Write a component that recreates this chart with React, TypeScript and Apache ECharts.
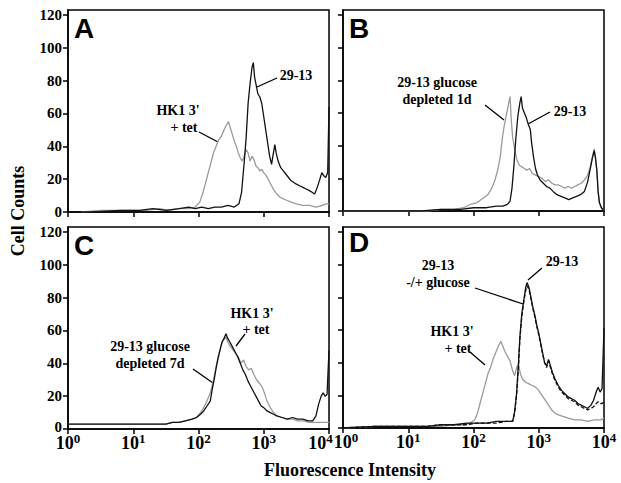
import React, { useEffect, useRef } from "react";
import * as echarts from "echarts";

// x values are log10(fluorescence intensity), y values are cell counts
const xTicks = [0, 1, 2, 3, 4];
const yTicks = [0, 20, 40, 60, 80, 100, 120];

// Panel A
const a_2913: number[][] = [[0.0,0],[0.4,0],[0.8,1],[1.1,1],[1.3,2],[1.5,1],[1.7,2],[1.85,3],[1.95,2],[2.05,3],[2.15,2],[2.25,3],[2.35,3],[2.45,4],[2.55,3],[2.62,5],[2.66,12],[2.7,30],[2.73,45],[2.76,66],[2.79,78],[2.82,88],[2.84,91],[2.86,82],[2.88,78],[2.91,72],[2.94,70],[2.97,66],[3.0,58],[3.03,50],[3.06,42],[3.09,34],[3.12,29],[3.14,34],[3.17,41],[3.19,36],[3.22,31],[3.26,27],[3.3,25],[3.34,23],[3.38,21],[3.42,19],[3.46,18],[3.5,17],[3.55,16],[3.6,15],[3.65,14],[3.7,13],[3.74,12],[3.78,11],[3.82,15],[3.86,20],[3.89,24],[3.92,22],[3.95,21],[3.98,24],[4.0,64]];
const a_hk1: number[][] = [[0.2,0],[0.5,1],[0.9,1],[1.2,1],[1.4,2],[1.55,1],[1.7,2],[1.85,2],[1.95,3],[2.02,6],[2.07,12],[2.11,18],[2.15,24],[2.19,30],[2.23,36],[2.27,40],[2.31,44],[2.35,46],[2.39,50],[2.43,53],[2.46,55],[2.49,51],[2.52,47],[2.55,43],[2.58,40],[2.61,36],[2.64,33],[2.67,31],[2.7,34],[2.73,38],[2.76,36],[2.79,31],[2.82,34],[2.85,32],[2.88,28],[2.91,27],[2.94,25],[2.97,26],[3.0,24],[3.04,22],[3.08,19],[3.12,16],[3.16,13],[3.2,11],[3.25,9],[3.3,8],[3.36,7],[3.42,6],[3.5,5],[3.6,4],[3.7,4],[3.8,3],[3.9,4],[3.95,5],[4.0,5]];

// Panel B
const b_dep1d: number[][] = [[0.0,0],[1.0,0],[1.3,0],[1.5,1],[1.7,1],[1.85,2],[1.95,4],[2.05,5],[2.15,8],[2.22,10],[2.28,14],[2.33,19],[2.37,25],[2.41,33],[2.44,44],[2.47,52],[2.5,58],[2.52,62],[2.54,66],[2.56,70],[2.58,55],[2.6,45],[2.63,38],[2.66,32],[2.7,28],[2.74,27],[2.78,26],[2.82,25],[2.86,26],[2.9,23],[2.95,22],[3.0,21],[3.05,20],[3.1,18],[3.15,19],[3.2,17],[3.25,16],[3.3,16],[3.35,15],[3.4,14],[3.45,15],[3.5,14],[3.55,15],[3.6,16],[3.65,17],[3.7,19],[3.75,22],[3.79,27],[3.82,33],[3.85,38],[3.87,33],[3.89,25],[3.91,12],[3.93,5],[3.96,2],[4.0,0]];
const b_2913: number[][] = [[0.0,0],[0.8,0],[1.2,0],[1.5,1],[1.8,1],[2.0,2],[2.2,2],[2.35,3],[2.45,3],[2.52,4],[2.56,6],[2.59,14],[2.62,28],[2.65,45],[2.68,58],[2.71,66],[2.73,70],[2.75,63],[2.78,60],[2.81,57],[2.84,53],[2.87,50],[2.89,42],[2.92,33],[2.95,26],[2.98,22],[3.02,19],[3.07,17],[3.12,15],[3.17,14],[3.22,12],[3.28,10],[3.34,9],[3.4,8],[3.46,7],[3.52,8],[3.58,9],[3.64,10],[3.7,12],[3.75,18],[3.79,26],[3.82,32],[3.85,37],[3.87,32],[3.89,25],[3.91,12],[3.93,5],[3.96,2],[4.0,0]];

// Panel C
const c_dep7d: number[][] = [[0.0,3],[0.5,3],[1.0,3],[1.3,3],[1.5,3],[1.6,4],[1.7,4],[1.8,5],[1.9,6],[1.97,7],[2.03,9],[2.08,11],[2.13,14],[2.18,17],[2.21,24],[2.24,30],[2.27,37],[2.3,43],[2.33,48],[2.36,53],[2.39,55],[2.42,58],[2.45,55],[2.48,53],[2.52,50],[2.56,47],[2.6,44],[2.64,40],[2.68,36],[2.72,33],[2.76,29],[2.8,26],[2.84,23],[2.88,20],[2.92,17],[2.96,14],[3.0,13],[3.05,11],[3.1,10],[3.15,9],[3.2,8],[3.28,7],[3.36,6],[3.44,7],[3.52,6],[3.6,6],[3.68,5],[3.75,5],[3.8,8],[3.84,15],[3.88,20],[3.91,22],[3.94,20],[3.97,21],[4.0,48]];
const c_hk1: number[][] = [[0.0,3],[0.5,3],[1.0,3],[1.3,3],[1.5,3],[1.6,4],[1.7,4],[1.8,5],[1.9,6],[1.97,7],[2.03,10],[2.08,13],[2.13,17],[2.18,22],[2.22,28],[2.26,36],[2.3,44],[2.34,50],[2.38,54],[2.42,56],[2.45,53],[2.49,50],[2.53,48],[2.57,46],[2.61,44],[2.65,40],[2.69,42],[2.73,38],[2.77,36],[2.81,37],[2.85,33],[2.89,30],[2.93,28],[2.97,26],[3.01,22],[3.05,17],[3.1,13],[3.15,10],[3.2,8],[3.28,7],[3.36,6],[3.44,6],[3.52,5],[3.6,5],[3.7,4],[3.8,4],[3.9,4],[4.0,4]];

// Panel D
const d_2913: number[][] = [[0.0,0],[0.5,1],[1.0,1],[1.3,1],[1.5,2],[1.7,2],[1.9,3],[2.05,3],[2.2,3],[2.35,4],[2.5,4],[2.6,4],[2.63,10],[2.66,21],[2.69,40],[2.71,55],[2.74,70],[2.77,78],[2.8,86],[2.82,89],[2.85,86],[2.88,80],[2.91,74],[2.94,69],[2.97,63],[3.0,58],[3.03,52],[3.06,46],[3.09,40],[3.12,38],[3.15,42],[3.18,38],[3.21,34],[3.25,30],[3.3,26],[3.35,23],[3.4,21],[3.45,19],[3.5,18],[3.55,17],[3.6,15],[3.65,14],[3.7,13],[3.75,12],[3.8,14],[3.84,17],[3.88,22],[3.91,25],[3.94,22],[3.97,24],[4.0,61]];
const d_2913glc: number[][] = [[0.0,0],[0.5,1],[1.0,1],[1.3,1],[1.5,2],[1.7,2],[1.9,2],[2.05,3],[2.2,3],[2.35,3],[2.5,4],[2.6,4],[2.63,9],[2.66,20],[2.69,38],[2.71,54],[2.74,68],[2.77,77],[2.8,84],[2.82,87],[2.85,85],[2.88,79],[2.91,73],[2.94,68],[2.97,62],[3.0,57],[3.03,51],[3.06,45],[3.09,40],[3.12,37],[3.15,41],[3.18,37],[3.21,33],[3.25,29],[3.3,25],[3.35,22],[3.4,20],[3.45,18],[3.5,17],[3.55,16],[3.6,14],[3.65,13],[3.7,12],[3.75,11],[3.8,12],[3.84,13],[3.88,15],[3.91,16],[3.94,15],[3.97,15],[4.0,16]];
const d_hk1: number[][] = [[0.0,0],[0.5,1],[1.0,1],[1.3,1],[1.5,1],[1.7,2],[1.85,2],[1.95,3],[2.02,5],[2.06,9],[2.1,15],[2.14,21],[2.18,27],[2.22,33],[2.26,37],[2.3,42],[2.34,46],[2.38,50],[2.42,53],[2.45,50],[2.48,47],[2.52,44],[2.56,41],[2.6,35],[2.63,32],[2.66,37],[2.69,39],[2.72,33],[2.75,30],[2.8,28],[2.85,27],[2.9,26],[2.95,25],[3.0,23],[3.05,20],[3.1,17],[3.15,14],[3.2,11],[3.25,9],[3.3,8],[3.38,7],[3.45,6],[3.55,5],[3.65,5],[3.75,4],[3.85,5],[3.95,5],[4.0,6]];

const SERIF = '"Liberation Serif", "Times New Roman", serif';
const SANS = '"Liberation Sans", Arial, sans-serif';
const BLACK = "#111";
const GRAY = "#9a9a9a";

const grids = [
  { left: 68, top: 10, width: 261, height: 202 },
  { left: 343, top: 10, width: 261, height: 201 },
  { left: 68, top: 227, width: 261, height: 202 },
  { left: 343, top: 227, width: 261, height: 201 },
];

function txt(text: string, x: number, y: number, size = 14, align = "center") {
  return {
    type: "text",
    style: { text, x, y, font: `bold ${size}px ${SERIF}`, fill: "#000", textAlign: align, textVerticalAlign: "middle" },
    silent: true,
  };
}
function ln(x1: number, y1: number, x2: number, y2: number) {
  return { type: "line", shape: { x1, y1, x2, y2 }, style: { stroke: "#000", lineWidth: 1.3 }, silent: true };
}
function letter(text: string, x: number, y: number) {
  return {
    type: "text",
    style: { text, x, y, font: `bold 28px ${SANS}`, fill: "#000", textAlign: "left", textVerticalAlign: "top" },
    silent: true,
  };
}

export default function App() {
  const ref = useRef<HTMLDivElement>(null);
  useEffect(() => {
    document.body.style.margin = "0";
    const chart = echarts.init(ref.current!, undefined, { renderer: "svg" });
    const xAxes = grids.map((_, i) => ({
      type: "value",
      gridIndex: i,
      min: 0,
      max: 4,
      interval: 1,
      splitLine: { show: false },
      axisLine: { show: true, lineStyle: { color: "#000", width: 1.5 } },
      axisTick: { show: true, inside: false, length: 5, customValues: xTicks, lineStyle: { color: "#000", width: 1.5 } },
      axisLabel: {
        show: i >= 2,
        margin: 3,
        customValues: xTicks,
        formatter: (v: number) => {
          if (i === 2 && v === 4) return `{b|10}{s|4}{pr|}`;
          if (i === 3 && v === 0) return `{pl|}{b|10}{s|0}`;
          return `{b|10}{s|${v}}`;
        },
        rich: {
          b: { fontFamily: SERIF, fontWeight: "bold", fontSize: 18, color: "#000", lineHeight: 20, verticalAlign: "bottom" },
          s: { fontFamily: SERIF, fontWeight: "bold", fontSize: 13, color: "#000", lineHeight: 20, verticalAlign: "top" },
          pr: { width: 17, lineHeight: 20 },
          pl: { width: 6, lineHeight: 20 },
        },
      },
    }));
    const yAxes = grids.map((_, i) => ({
      type: "value",
      gridIndex: i,
      min: 0,
      max: 123,
      splitLine: { show: false },
      axisLine: { show: true, lineStyle: { color: "#000", width: 1.5 } },
      axisTick: { show: true, length: 5, customValues: yTicks, lineStyle: { color: "#000", width: 1.5 } },
      axisLabel: {
        show: i % 2 === 0,
        customValues: yTicks,
        margin: 6,
        fontFamily: SERIF,
        fontWeight: "bold",
        fontSize: 15,
        lineHeight: 11,
        color: "#000",
        formatter: (v: number) => (v === 0 && i === 2 ? `{z|0}` : `${v}`),
        rich: {
          z: { fontFamily: SERIF, fontWeight: "bold", fontSize: 15, color: "#000", lineHeight: 11, padding: [0, 0, 5, 0] },
        },
      },
    }));
    const mk = (data: number[][], idx: number, color: string, dashed = false, width = 1.3) => ({
      type: "line",
      xAxisIndex: idx,
      yAxisIndex: idx,
      data,
      showSymbol: false,
      symbol: "none",
      lineStyle: { color, width, type: dashed ? [4, 2] : "solid" },
      z: color === BLACK ? 3 : 2,
    });
    chart.setOption({
      animation: false,
      grid: grids.map((g) => ({ ...g, show: true, borderColor: "#000", borderWidth: 1.5, backgroundColor: "transparent" })),
      xAxis: xAxes,
      yAxis: yAxes,
      series: [
        mk(a_hk1, 0, GRAY),
        mk(a_2913, 0, BLACK),
        mk(b_dep1d, 1, GRAY),
        mk(b_2913, 1, BLACK),
        mk(c_hk1, 2, GRAY),
        mk(c_dep7d, 2, BLACK),
        mk(d_hk1, 3, GRAY),
        mk(d_2913glc, 3, BLACK, true),
        mk(d_2913, 3, BLACK),
      ],
      graphic: [
        letter("A", 74, 14),
        letter("B", 349, 14),
        letter("C", 74, 231),
        letter("D", 349, 228),
        // A
        txt("HK1 3'", 178, 110),
        txt("+ tet", 184, 127),
        ln(199, 132, 218, 142),
        txt("29-13", 296, 75),
        ln(277, 78, 257, 87),
        // B
        txt("29-13 glucose", 437, 82),
        txt("depleted 1d", 437, 99),
        ln(485, 105, 504, 120),
        txt("29-13", 570, 111),
        ln(550, 112, 528, 124),
        // C
        txt("HK1 3'", 252, 313),
        txt("+ tet", 256, 329),
        ln(245, 334, 236, 346),
        txt("29-13 glucose", 150, 346),
        txt("depleted 7d", 150, 363),
        ln(193, 369, 213, 383),
        // D
        txt("29-13", 438, 265),
        txt("-/+ glucose", 438, 282),
        ln(475, 288, 523, 304),
        txt("29-13", 562, 261),
        ln(542, 268, 528, 280),
        txt("HK1 3'", 452, 331),
        txt("+ tet", 458, 348),
        ln(470, 352, 485, 365),
        // axis titles
        txt("Fluorescence Intensity", 350, 470, 18),
        {
          type: "text",
          x: 18,
          y: 211,
          rotation: Math.PI / 2,
          style: { text: "Cell Counts", x: 0, y: 0, font: `bold 18px ${SERIF}`, fill: "#000", textAlign: "center", textVerticalAlign: "middle" },
          silent: true,
        },
      ],
    });
    return () => chart.dispose();
  }, []);
  return <div ref={ref} style={{ position: "absolute", left: 0, top: 0, width: 621, height: 483 }} />;
}
